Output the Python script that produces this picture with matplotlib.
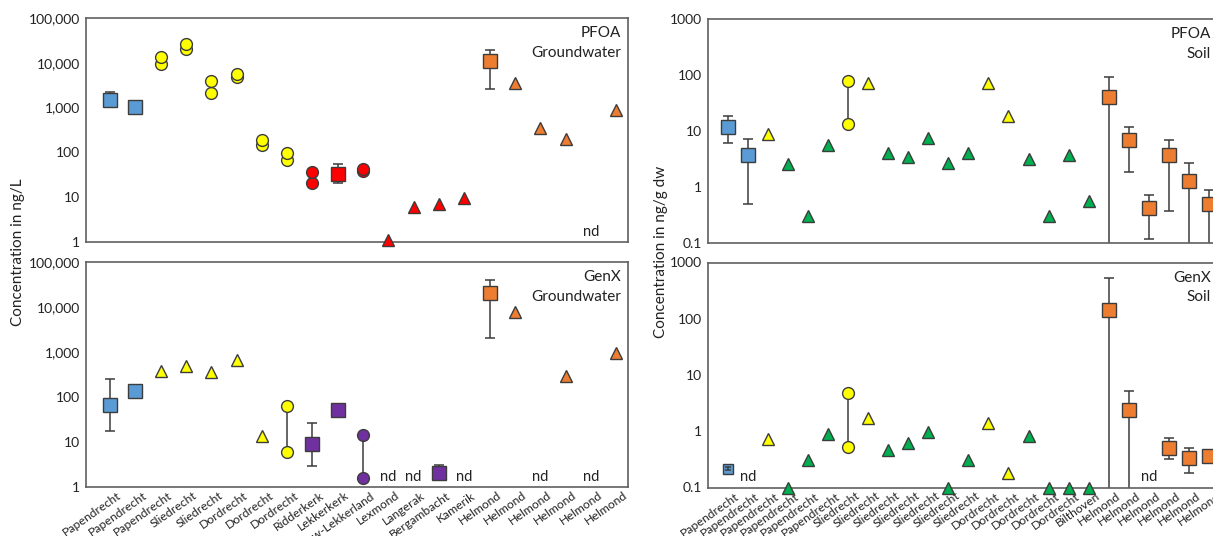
import matplotlib
matplotlib.use("Agg")
import matplotlib.pyplot as plt
import matplotlib.transforms as mtransforms
from matplotlib.ticker import FuncFormatter, FixedLocator

plt.rcParams['font.family'] = ['Lato', 'DejaVu Sans']

BLU = "#5B9BD5"; YEL = "#FFFF00"; RED = "#FF0000"; ORG = "#ED7D31"; PUR = "#7030A0"; GRN = "#00B050"
EDGE = "#3c3c3c"; SPINE = "#606060"

# ---- categories ----
gw_sites = (["Papendrecht"] * 3 + ["Sliedrecht"] * 2 + ["Dordrecht"] * 3 +
            ["Ridderkerk", "Lekkerkerk", "Nieuw-Lekkerland", "Lexmond", "Langerak",
             "Bergambacht", "Kamerik"] + ["Helmond"] * 6)
soil_sites = (["Papendrecht"] * 6 + ["Sliedrecht"] * 7 + ["Dordrecht"] * 5 +
              ["Bilthoven"] + ["Helmond"] * 6)

# ---- PFOA groundwater (ng/L) ----
pg_sq_x = [0, 1, 9, 15]
pg_sq_y = [1450, 1020, 33, 10800]
pg_sq_lo = [1100, 960, 21, 2600]
pg_sq_hi = [2200, 1100, 54, 19500]
pg_sq_c = [BLU, BLU, RED, ORG]
pg_ci_x = [2, 3, 4, 5, 6, 7, 8, 10]
pg_ci_hi = [13800, 25800, 3900, 5500, 190, 95, 36, 42]
pg_ci_lo = [9500, 20500, 2150, 4900, 145, 66, 21, 38]
pg_ci_c = [YEL] * 6 + [RED, RED]
pg_tr_x = [11, 12, 13, 14, 16, 17, 18, 20]
pg_tr_y = [1.1, 6.0, 7.0, 9.8, 3600, 350, 200, 900]
pg_tr_c = [RED] * 4 + [ORG] * 4
pg_nd_x = [19]

# ---- GenX groundwater (ng/L) ----
gg_sq_x = [0, 1, 8, 9, 13, 15]
gg_sq_y = [66, 134, 9.2, 52, 2.1, 20000]
gg_sq_lo = [18, 103, 3.0, 52, 1.4, 2000]
gg_sq_hi = [247, 175, 27, 52, 3.1, 40000]
gg_sq_c = [BLU, BLU, PUR, PUR, PUR, ORG]
gg_ci_x = [7, 10]
gg_ci_hi = [64, 14.3]
gg_ci_lo = [6.1, 1.6]
gg_ci_c = [YEL, PUR]
gg_tr_x = [2, 3, 4, 5, 6, 16, 18, 20]
gg_tr_y = [385, 495, 360, 665, 13.8, 7600, 293, 935]
gg_tr_c = [YEL] * 5 + [ORG] * 3
gg_nd_x = [11, 12, 14, 17, 19]

# ---- PFOA soil (ng/g dw) ----
soil_tr_x = [2, 3, 4, 5, 7, 8, 9, 10, 11, 12, 13, 14, 15, 16, 17, 18]
soil_tr_c = [YEL, GRN, GRN, GRN, YEL, GRN, GRN, GRN, GRN, GRN, YEL, YEL, GRN, GRN, GRN, GRN]
ps_sq_x = [0, 1, 19, 20, 21, 22, 23, 24]
ps_sq_y = [11.7, 3.8, 40, 6.8, 0.42, 3.7, 1.26, 0.49]
ps_sq_lo = [6.0, 0.49, 0.01, 1.88, 0.12, 0.37, 0.01, 0.01]
ps_sq_hi = [18.3, 7.1, 91, 11.8, 0.72, 7.0, 2.7, 0.88]
ps_sq_c = [BLU, BLU] + [ORG] * 6
ps_ci_x = [6]
ps_ci_hi = [79]
ps_ci_lo = [13.2]
ps_ci_c = [YEL]
ps_tr_y = [8.7, 2.55, 0.30, 5.6, 71, 4.0, 3.5, 7.6, 2.65, 4.0, 73, 18.8, 3.1, 0.30, 3.8, 0.57]
ps_nd_x = []

# ---- GenX soil (ng/g dw) ----
gs_sq_x = [0, 19, 20, 22, 23, 24]
gs_sq_y = [0.215, 146, 2.37, 0.51, 0.34, 0.36]
gs_sq_lo = [0.205, 0.01, 0.01, 0.32, 0.18, 0.28]
gs_sq_hi = [0.228, 540, 5.2, 0.76, 0.50, 0.45]
gs_sq_c = [BLU] + [ORG] * 5
gs_ci_x = [6]
gs_ci_hi = [4.8]
gs_ci_lo = [0.53]
gs_ci_c = [YEL]
gs_tr_y = [0.74, 0.1, 0.31, 0.90, 1.7, 0.47, 0.61, 0.98, 0.1, 0.31, 1.4, 0.18, 0.82, 0.1, 0.1, 0.1]
gs_nd_x = [1, 21]


def draw(ax, sq, ci, tr, nd, small=()):
    for x, y, lo, hi, c in zip(*sq):
        ax.errorbar(x, y, yerr=[[y - lo], [hi - y]], fmt='none', ecolor=EDGE,
                    elinewidth=1.1, capsize=3.5 if x not in small else 2.2, capthick=1.1, zorder=2 if x not in small else 5)
        ax.plot(x, y, 's', ms=9.5 if x not in small else 6.5, mfc=c, mec=EDGE, mew=1.0, zorder=4, clip_on=False)
    for x, hi, lo, c in zip(*ci):
        ax.plot([x, x], [lo, hi], color=EDGE, lw=1.1, zorder=2)
        ax.plot([x, x], [lo, hi], 'o', ms=8.5, mfc=c, mec=EDGE, mew=1.0, zorder=4, clip_on=False)
    for x, y, c in zip(*tr):
        ax.plot(x, y, '^', ms=8.5, mfc=c, mec=EDGE, mew=1.0, zorder=4, clip_on=False)
    trans = mtransforms.blended_transform_factory(ax.transData, ax.transAxes)
    for x in nd:
        ax.text(x, 0.045, "nd", transform=trans, ha='center', va='center', fontsize=10.5, color="#222")


def style(ax, n, xl, ylim, fmt, labels=None):
    ax.set_yscale('log')
    ax.set_ylim(*ylim)
    ax.set_xlim(*xl)
    for s in ax.spines.values():
        s.set_color(SPINE); s.set_linewidth(1.2)
    ax.yaxis.set_major_formatter(FuncFormatter(fmt))
    ax.yaxis.set_minor_locator(FixedLocator([]))
    ax.tick_params(axis='y', length=0, pad=4, labelsize=10, labelcolor="#222")
    ax.tick_params(axis='x', length=0, pad=2)
    ax.set_xticks(range(n))
    if labels is None:
        ax.set_xticklabels([])
    else:
        ax.set_xticklabels(labels, rotation=35, ha='right', rotation_mode='anchor',
                           fontsize=8.8, color="#222")
        off = mtransforms.ScaledTranslation(0.07, 0, ax.figure.dpi_scale_trans)
        for t in ax.get_xticklabels():
            t.set_transform(t.get_transform() + off)


fmt_gw = lambda v, p: f"{v:,.0f}"
fmt_soil = lambda v, p: f"{v:g}"

fig = plt.figure(figsize=(12.13, 5.36), dpi=100)
W, H = 1213, 536
ax1 = fig.add_axes([86 / W, 1 - 242 / H, 542 / W, 224 / H])
ax2 = fig.add_axes([86 / W, 1 - 487 / H, 542 / W, 225 / H])
ax3 = fig.add_axes([708 / W, 1 - 243 / H, 508 / W, 224 / H])
ax4 = fig.add_axes([708 / W, 1 - 487.5 / H, 508 / W, 225 / H])

draw(ax1, (pg_sq_x, pg_sq_y, pg_sq_lo, pg_sq_hi, pg_sq_c), (pg_ci_x, pg_ci_hi, pg_ci_lo, pg_ci_c),
     (pg_tr_x, pg_tr_y, pg_tr_c), pg_nd_x)
draw(ax2, (gg_sq_x, gg_sq_y, gg_sq_lo, gg_sq_hi, gg_sq_c), (gg_ci_x, gg_ci_hi, gg_ci_lo, gg_ci_c),
     (gg_tr_x, gg_tr_y, gg_tr_c), gg_nd_x)
draw(ax3, (ps_sq_x, ps_sq_y, ps_sq_lo, ps_sq_hi, ps_sq_c), (ps_ci_x, ps_ci_hi, ps_ci_lo, ps_ci_c),
     (soil_tr_x, ps_tr_y, soil_tr_c), ps_nd_x)
draw(ax4, (gs_sq_x, gs_sq_y, gs_sq_lo, gs_sq_hi, gs_sq_c), (gs_ci_x, gs_ci_hi, gs_ci_lo, gs_ci_c),
     (soil_tr_x, gs_tr_y, soil_tr_c), gs_nd_x, small=(0,))

style(ax1, len(gw_sites), (-0.95, 20.47), (1, 1e5), fmt_gw)
style(ax2, len(gw_sites), (-0.95, 20.47), (1, 1e5), fmt_gw, gw_sites)
style(ax3, len(soil_sites), (-1.0, 24.36), (0.1, 1000), fmt_soil)
style(ax4, len(soil_sites), (-1.0, 24.36), (0.1, 1000), fmt_soil, soil_sites)

for ax, a, b, xr in [(ax1, "PFOA", "Groundwater", 0.988), (ax2, "GenX", "Groundwater", 0.988),
                     (ax3, "PFOA", "Soil", 0.99), (ax4, "GenX", "Soil", 0.99)]:
    ax.text(xr, 0.932, a, transform=ax.transAxes, ha='right', va='center', fontsize=11, color="#222")
    ax.text(xr, 0.845, b, transform=ax.transAxes, ha='right', va='center', fontsize=11, color="#222")

fig.text(18 / W, 1 - 252 / H, "Concentration in ng/L", rotation=90, ha='center', va='center',
         fontsize=11, color="#222")
fig.text(661 / W, 1 - 252 / H, "Concentration in ng/g dw", rotation=90, ha='center', va='center',
         fontsize=11, color="#222")

fig.savefig("out.png", dpi=100, facecolor="white")
